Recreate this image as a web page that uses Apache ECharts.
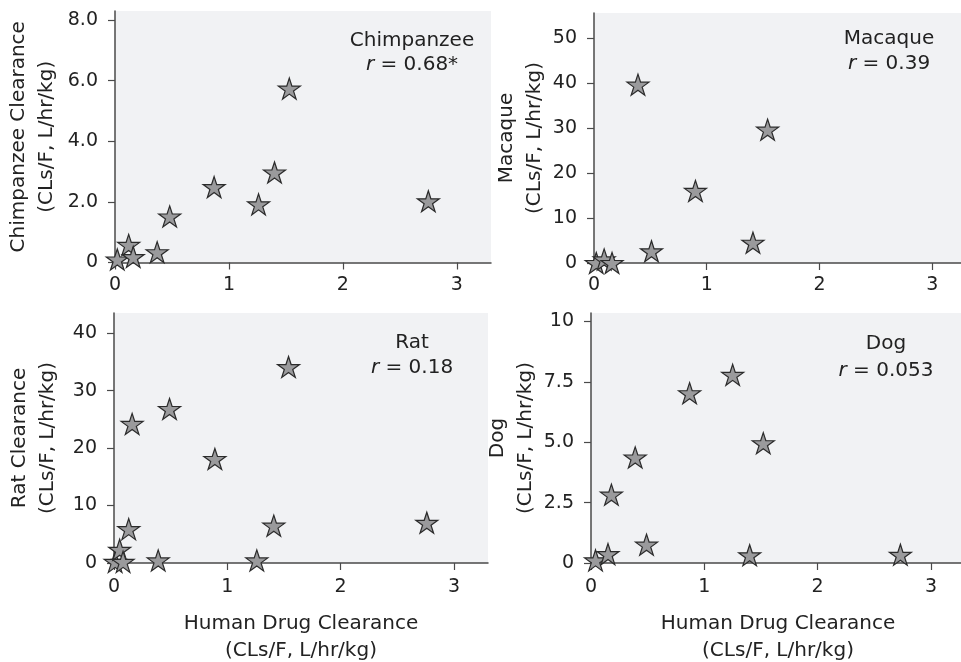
<!DOCTYPE html>
<html><head><meta charset="utf-8">
<script src="https://cdn.jsdelivr.net/npm/echarts@6/dist/echarts.min.js"></script>
<style>html,body{margin:0;padding:0;background:#fff}#c{width:961px;height:662px}</style>
</head><body><div id="c"></div>
<script>
// ---- data ----
const xTicks = [0, 1, 2, 3];
const xTickLabels = ['0', '1', '2', '3'];

const chimpX = [0.02, 0.12, 0.16, 0.37, 0.48, 0.87, 1.26, 1.40, 1.53, 2.75];
const chimpY = [0.10, 0.58, 0.18, 0.34, 1.52, 2.49, 1.92, 2.97, 5.74, 2.02];
const chimpYTicks = [0, 2, 4, 6, 8];
const chimpYLabels = ['0', '2.0', '4.0', '6.0', '8.0'];

const macaqueX = [0.02, 0.09, 0.16, 0.39, 0.51, 0.90, 1.41, 1.54];
const macaqueY = [0.0, 0.8, 0.0, 39.6, 2.6, 16.0, 4.5, 29.6];
const macaqueYTicks = [0, 10, 20, 30, 40, 50];
const macaqueYLabels = ['0', '10', '20', '30', '40', '50'];

const ratX = [0.01, 0.05, 0.08, 0.13, 0.16, 0.39, 0.49, 0.89, 1.26, 1.41, 1.54, 2.76];
const ratY = [0.2, 2.3, 0.2, 5.9, 24.2, 0.45, 26.8, 18.1, 0.45, 6.5, 34.1, 7.0];
const ratYTicks = [0, 10, 20, 30, 40];
const ratYLabels = ['0', '10', '20', '30', '40'];

const dogX = [0.04, 0.15, 0.18, 0.39, 0.49, 0.87, 1.25, 1.40, 1.52, 2.73];
const dogY = [0.11, 0.37, 2.83, 4.37, 0.76, 7.03, 7.79, 0.32, 4.96, 0.34];
const dogYTicks = [0, 2.5, 5, 7.5, 10];
const dogYLabels = ['0', '2.5', '5.0', '7.5', '10'];

const panelNames = ['Chimpanzee', 'Macaque', 'Rat', 'Dog'];
const panelR = ['0.68*', '0.39', '0.18', '0.053'];
const yNames = ['Chimpanzee Clearance\n(CLs/F, L/hr/kg)', 'Macaque\n(CLs/F, L/hr/kg)',
                'Rat Clearance\n(CLs/F, L/hr/kg)', 'Dog\n(CLs/F, L/hr/kg)'];
const xName = 'Human Drug Clearance\n(CLs/F, L/hr/kg)';

// ---- layout / style ----
const FONT = 'DejaVu Sans';
const FS = 19;      // tick labels
const FN = 20;      // names / annotations
const TXT = '#222';
const AX = '#4a4a4a';
const star = 'path://M50 0 L61.23 34.55 L97.55 34.55 L68.17 55.9 L79.39 90.45 L50 69.1 L20.61 90.45 L31.83 55.9 L2.45 34.55 L38.77 34.55 Z';

const grids = [
  {left: 115, top: 11, width: 376, height: 251.5},
  {left: 594, top: 13, width: 372, height: 250},
  {left: 114, top: 313, width: 374, height: 250},
  {left: 591, top: 313, width: 374, height: 250}
];
const yMax = [8.3, 55.5, 43.5, 10.35];
const yNameGap = [54, 35, 52, 45];
const xLabelMargin = [13, 13, 15, 15];
const yTicksAll = [chimpYTicks, macaqueYTicks, ratYTicks, dogYTicks];
const yLabelsAll = [chimpYLabels, macaqueYLabels, ratYLabels, dogYLabels];
const xsAll = [chimpX, macaqueX, ratX, dogX];
const ysAll = [chimpY, macaqueY, ratY, dogY];

function axisCommon() {
  return {
    axisLine: {show: true, lineStyle: {color: AX, width: 1.5}},
    splitLine: {show: false}
  };
}

const xAxis = grids.map((g, i) => Object.assign(axisCommon(), {
  type: 'value', gridIndex: i, min: 0, max: 3.3,
  axisTick: {show: true, length: 7, lineStyle: {color: AX, width: 1.2}, customValues: xTicks},
  axisLabel: {customValues: xTicks, margin: xLabelMargin[i], fontFamily: FONT, fontSize: FS, color: TXT,
    formatter: v => xTickLabels[xTicks.indexOf(v)] ?? ''},
  name: i >= 2 ? xName : '',
  nameLocation: 'middle', nameGap: 47,
  nameTextStyle: {fontFamily: FONT, fontSize: FN, color: TXT, lineHeight: 27}
}));

const yAxis = grids.map((g, i) => Object.assign(axisCommon(), {
  type: 'value', gridIndex: i, min: 0, max: yMax[i],
  axisTick: {show: true, length: 7, lineStyle: {color: AX, width: 1.2}, customValues: yTicksAll[i]},
  axisLabel: {customValues: yTicksAll[i], margin: 17, fontFamily: FONT, fontSize: FS, color: TXT,
    formatter: v => yLabelsAll[i][yTicksAll[i].indexOf(v)] ?? ''},
  name: yNames[i], nameLocation: 'middle', nameRotate: 90, nameGap: yNameGap[i],
  nameTextStyle: {fontFamily: FONT, fontSize: FN, color: TXT, lineHeight: 28}
}));

const series = grids.map((g, i) => ({
  type: 'scatter', xAxisIndex: i, yAxisIndex: i, clip: false, z: 5,
  symbol: star, symbolSize: [22, 21],
  itemStyle: {color: '#9a9a9c', borderColor: '#2b2b2b', borderWidth: 1.2, opacity: 1},
  emphasis: {disabled: true},
  data: xsAll[i].map((x, k) => [x, ysAll[i][k]])
}));

// annotation positions (centre x, line1 y, line2 y)
const ann = [[412, 41, 65], [889, 39, 63.5], [412, 343, 367.5], [886, 344, 370.5]];
const graphic = [];
ann.forEach((a, i) => {
  graphic.push({type: 'text', x: a[0], y: a[1], z: 10,
    style: {text: panelNames[i], fontFamily: FONT, fontSize: FN, fill: TXT, align: 'center', verticalAlign: 'middle'}});
  graphic.push({type: 'text', x: a[0], y: a[2], z: 10,
    style: {text: '{i|r} = ' + panelR[i], fontFamily: FONT, fontSize: FN, fill: TXT, align: 'center', verticalAlign: 'middle',
      rich: {i: {fontStyle: 'italic', fontFamily: FONT, fontSize: FN, fill: TXT}}}});
});

const chart = echarts.init(document.getElementById('c'), null, {renderer: 'canvas'});
chart.setOption({
  animation: false,
  backgroundColor: '#ffffff',
  grid: grids.map(g => Object.assign({show: true, backgroundColor: '#f1f2f4', borderWidth: 0,
    containLabel: false, outerBoundsMode: 'none'}, g)),
  xAxis, yAxis, series, graphic
});
</script></body></html>
